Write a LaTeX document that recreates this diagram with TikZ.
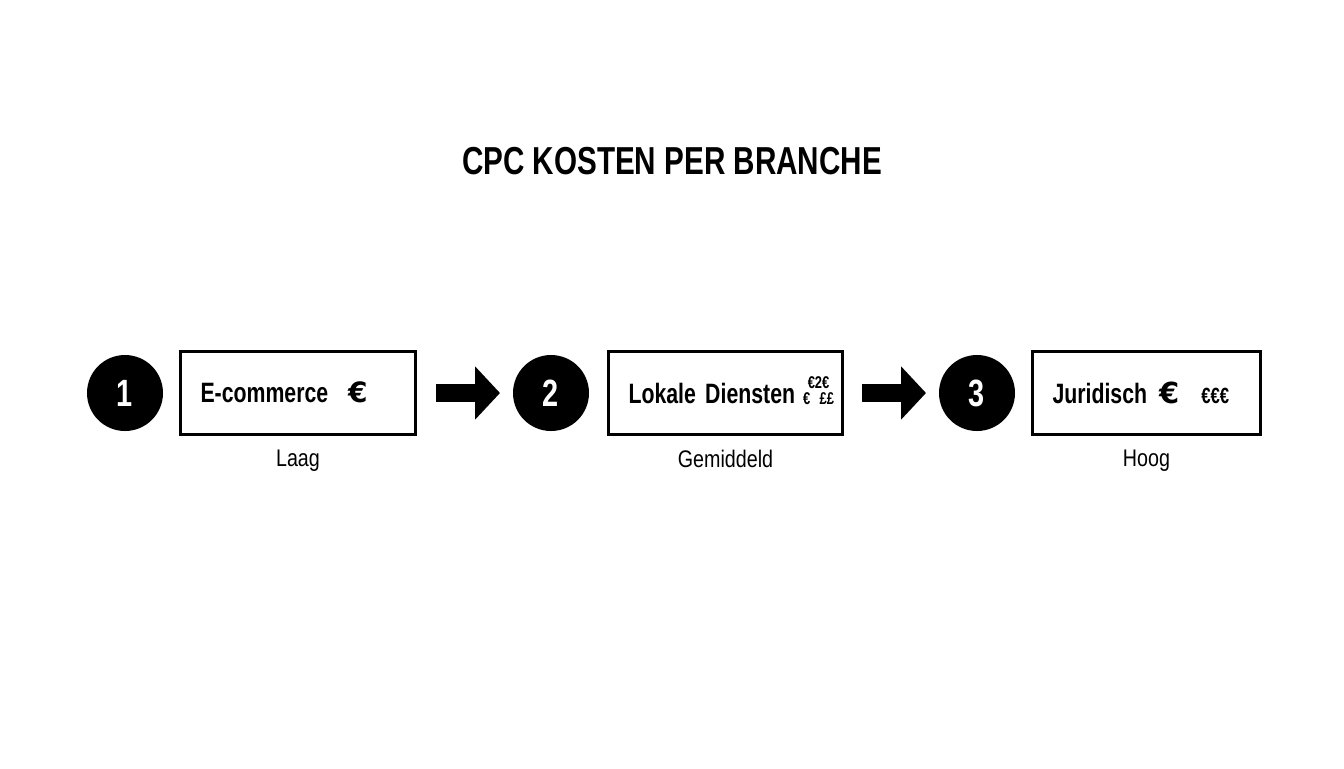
\documentclass[tikz,border=0pt]{standalone}
\usepackage{fontspec}
\setmainfont[FakeStretch=0.82, BoldFeatures={FakeStretch=0.76}]{Liberation Sans}
\newfontfamily\eurofont{DejaVu Sans}
\usetikzlibrary{arrows.meta,positioning}
\newcommand\bigeuro[1]{\smash{\eurofont\bfseries\fontsize{#1}{#1}\selectfont €}}
\tikzset{
  num/.style  = {circle, fill=black, minimum size=38pt, inner sep=0pt, outer sep=0pt,
                 text=white, font=\fontsize{19}{19}\selectfont\bfseries},
  box/.style  = {draw, line width=1.5pt, minimum height=41.5pt, inner xsep=10pt,
                 outer sep=0pt, align=left, font=\fontsize{14}{14}\selectfont\bfseries},
  sub/.style  = {inner sep=0pt, font=\fontsize{12}{12}\selectfont},
  ttl/.style  = {inner sep=0pt, font=\fontsize{19.5}{20}\selectfont\bfseries},
  flow/.style = {line width=9pt, -{Triangle[length=12.5pt,width=26pt]}}
}

\begin{document}
\begin{tikzpicture}[x=0.5pt, y=-0.5pt]
  \useasboundingbox (0,0) rectangle (1344,768);
  \node[ttl] (title) at (672,161) {CPC KOSTEN PER BRANCHE};

  \node[num] (c1) at (125,393) {1};
  \node[box, text width=97.5pt, right=8.75pt of c1] (ecom)
        {E-commerce\hspace{10pt}\bigeuro{14}};
  \node[num, right=48.75pt of ecom] (c2) {2};
  \node[box, text width=97pt, right=9.75pt of c2] (lokaal)
        {Lokale Diensten\hspace{4pt}\rlap{\raisebox{3pt}{\smash{\fontsize{8.5}{8.5}\selectfont
         \renewcommand\arraystretch{0.85}\begin{tabular}{@{}c@{}}€2€\\€ ££\end{tabular}}}}};
  \node[num, right=48.25pt of lokaal] (c3) {3};
  \node[box, text width=94pt, right=8.75pt of c3] (jur)
        {Juridisch\hspace{6pt}\bigeuro{14.5}\hspace{11pt}{\fontsize{11}{11}\selectfont €€€}};

  \node[sub, below=7.5pt of ecom]   (laag) {Laag};
  \node[sub, below=7.5pt of lokaal] (mid)  {Gemiddeld};
  \node[sub, below=7.5pt of jur]    (hoog) {Hoog};

  \draw[flow, shorten <=10.25pt, shorten >=6.5pt] (ecom) -- (c2);
  \draw[flow, shorten <=9.75pt, shorten >=6.5pt] (lokaal) -- (c3);
\end{tikzpicture}
\end{document}
